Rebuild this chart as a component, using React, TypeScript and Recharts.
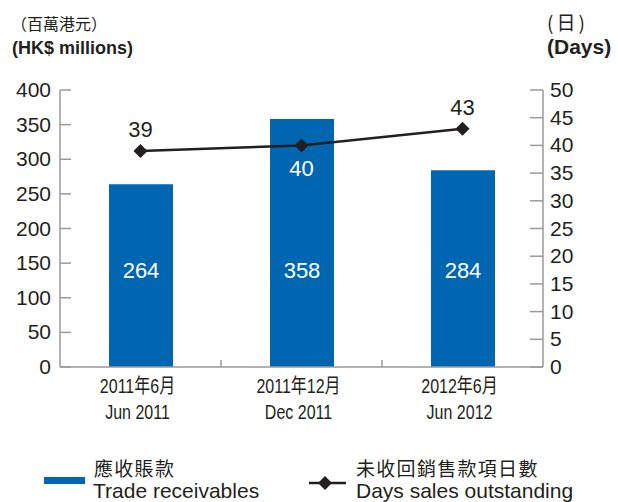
import React from 'react';
import { ComposedChart, Bar, Line, XAxis, YAxis, LabelList } from 'recharts';

const periodsZh = ['2011年6月', '2011年12月', '2012年6月'];
const periodsEn = ['Jun 2011', 'Dec 2011', 'Jun 2012'];
const receivables = [264, 358, 284];
const daysOutstanding = [39, 40, 43];
const leftTicks = [0, 50, 100, 150, 200, 250, 300, 350, 400];
const rightTicks = [0, 5, 10, 15, 20, 25, 30, 35, 40, 45, 50];

const BLUE = '#0066b2';
const DARK = '#231f20';
const AXIS = '#9a9a9a';
const FONT = '"Liberation Sans", Arial, "Noto Sans CJK TC", sans-serif';
const CJK = '"Noto Sans CJK TC", "Liberation Sans", sans-serif';

// where the day labels sit relative to the marker
const dayLabelPlace = ['above', 'below', 'above'];

const data = periodsZh.map((zh, i) => ({
  zh,
  en: periodsEn[i],
  receivables: receivables[i],
  days: daysOutstanding[i],
}));

const XTick = (props: any) => {
  const { x, y, payload, index } = props;
  const half = payload && payload.offset ? payload.offset : 80;
  const row = data[index] || { zh: '', en: '' };
  return (
    <g>
      {index < data.length - 1 && (
        <line x1={x + half} y1={y} x2={x + half} y2={y - 7} stroke={AXIS} strokeWidth={1.5} />
      )}
      {/* condensed look of the original labels */}
      <g transform={`translate(${x - 3},${y}) scale(0.8,1)`}>
        <text x={0} y={26} textAnchor="middle" fontSize={20} fill={DARK} fontFamily={FONT}>
          {row.zh}
        </text>
        <text x={0} y={52} textAnchor="middle" fontSize={20} fill={DARK} fontFamily={FONT}>
          {row.en}
        </text>
      </g>
    </g>
  );
};

const LeftTick = (props: any) => {
  const { x, y, payload } = props;
  return (
    <g>
      <line x1={x} y1={y} x2={x + 11} y2={y} stroke={AXIS} strokeWidth={1.5} />
      <text x={x - 9} y={y} dy={7} textAnchor="end" fontSize={21} fill={DARK} fontFamily={FONT}>
        {payload.value}
      </text>
    </g>
  );
};

const RightTick = (props: any) => {
  const { x, y, payload } = props;
  return (
    <g>
      <line x1={x} y1={y} x2={x - 13} y2={y} stroke={AXIS} strokeWidth={1.5} />
      <text x={x + 7} y={y} dy={7} textAnchor="start" fontSize={21} fill={DARK} fontFamily={FONT}>
        {payload.value}
      </text>
    </g>
  );
};

const BarValue = (props: any) => {
  const { x, y, width, height, value } = props;
  return (
    <text
      x={x + width / 2}
      y={y + height - 97}
      dy={8}
      textAnchor="middle"
      fontSize={22}
      fill="#ffffff"
      fontFamily={FONT}
    >
      {value}
    </text>
  );
};

const DayValue = (props: any) => {
  const { x, y, value, index } = props;
  const below = dayLabelPlace[index] === 'below';
  return (
    <text
      x={x}
      y={below ? y + 23 : y - 22}
      dy={8}
      textAnchor="middle"
      fontSize={22}
      fill={below ? '#ffffff' : DARK}
      fontFamily={FONT}
    >
      {value}
    </text>
  );
};

const Diamond = (props: any) => {
  const { cx, cy } = props;
  if (cx == null || cy == null) return null;
  const r = 7;
  return (
    <path
      d={`M${cx},${cy - r} L${cx + r},${cy} L${cx},${cy + r} L${cx - r},${cy} Z`}
      fill={DARK}
    />
  );
};

const App: React.FC = () => {
  return (
    <div style={{ position: 'absolute', left: 0, top: 0, width: 618, height: 502, background: '#fff', fontFamily: FONT }}>
      <div style={{ position: 'absolute', left: 11, top: 13, fontSize: 16, fontFamily: CJK, color: DARK, lineHeight: '20px' }}>
        （百萬港元）
      </div>
      <div style={{ position: 'absolute', left: 12, top: 37, fontSize: 18, fontWeight: 'bold', color: DARK, lineHeight: '22px' }}>
        (HK$ millions)
      </div>
      <div style={{ position: 'absolute', left: 547, top: 10, fontSize: 19, fontFamily: CJK, color: DARK, lineHeight: '24px', letterSpacing: 3 }}>
        (日)
      </div>
      <div style={{ position: 'absolute', left: 547, top: 35, fontSize: 21, fontWeight: 'bold', color: DARK, lineHeight: '24px' }}>
        (Days)
      </div>

      <ComposedChart
        width={618}
        height={502}
        data={data}
        margin={{ top: 90, right: 0, bottom: 75, left: 0 }}
        barCategoryGap={0}
      >
        <XAxis
          dataKey="zh"
          type="category"
          height={60}
          stroke={AXIS}
          strokeWidth={1.5}
          tickLine={false}
          tickSize={0}
          tickMargin={0}
          interval={0}
          tick={<XTick />}
        />
        <YAxis
          yAxisId="left"
          orientation="left"
          width={60}
          domain={[0, 400]}
          ticks={leftTicks}
          interval={0}
          stroke={AXIS}
          strokeWidth={1.5}
          tickLine={false}
          tickSize={0}
          tickMargin={0}
          tick={<LeftTick />}
        />
        <YAxis
          yAxisId="right"
          orientation="right"
          width={75}
          domain={[0, 50]}
          ticks={rightTicks}
          interval={0}
          stroke={AXIS}
          strokeWidth={1.5}
          tickLine={false}
          tickSize={0}
          tickMargin={0}
          tick={<RightTick />}
        />
        <Bar yAxisId="left" dataKey="receivables" fill={BLUE} barSize={64} isAnimationActive={false}>
          <LabelList dataKey="receivables" content={<BarValue />} />
        </Bar>
        <Line
          yAxisId="right"
          dataKey="days"
          stroke={DARK}
          strokeWidth={2.5}
          dot={<Diamond />}
          activeDot={false}
          isAnimationActive={false}
        >
          <LabelList dataKey="days" content={<DayValue />} />
        </Line>
      </ComposedChart>

      {/* legend */}
      <div style={{ position: 'absolute', left: 44, top: 477, width: 41, height: 7, background: BLUE }} />
      <div style={{ position: 'absolute', left: 94, top: 456, fontSize: 19, fontFamily: CJK, color: DARK, lineHeight: '24px', letterSpacing: 1.3 }}>
        應收賬款
      </div>
      <div style={{ position: 'absolute', left: 93, top: 479, fontSize: 21, color: DARK, lineHeight: '24px' }}>
        Trade receivables
      </div>
      <svg style={{ position: 'absolute', left: 309, top: 473 }} width={40} height={20}>
        <line x1={0} y1={10} x2={37} y2={10} stroke={DARK} strokeWidth={2.5} />
        <path d="M16,3 L23,10 L16,17 L9,10 Z" fill={DARK} />
      </svg>
      <div style={{ position: 'absolute', left: 356, top: 456, fontSize: 19, fontFamily: CJK, color: DARK, lineHeight: '24px', letterSpacing: 1.3 }}>
        未收回銷售款項日數
      </div>
      <div style={{ position: 'absolute', left: 356, top: 479, fontSize: 21, color: DARK, lineHeight: '24px' }}>
        Days sales outstanding
      </div>
    </div>
  );
};

export default App;
